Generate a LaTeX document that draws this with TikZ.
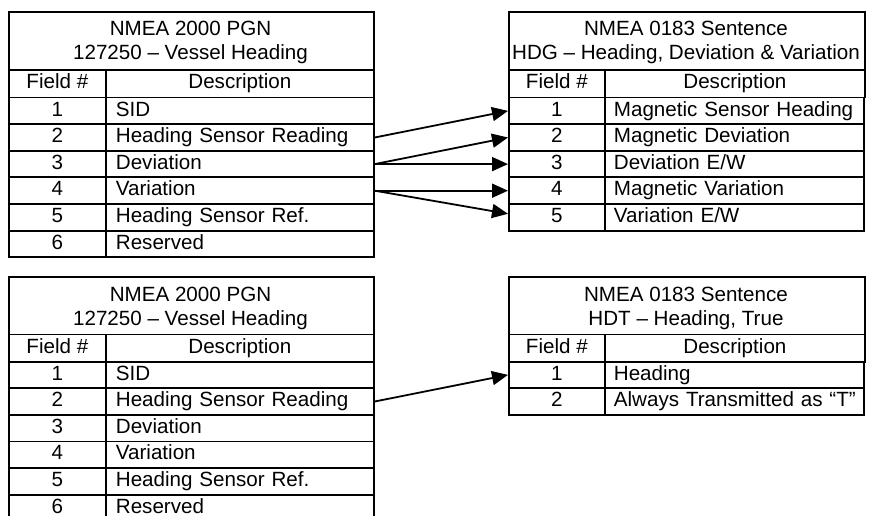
\documentclass[tikz,border=0pt]{standalone}
\usepackage{fontspec}
\setmainfont{Liberation Sans}
\usetikzlibrary{arrows.meta}
\newcommand\tabfont{\fontsize{20.6}{24}\selectfont}
\tikzset{
  cell/.style={draw, line width=1.8pt, inner xsep=0pt, inner ysep=0pt,
    minimum height=26.6pt, text height=15pt, text depth=4.5pt,
    anchor=north west, font=\tabfont},
  lnum/.style={cell, minimum width=97pt},
  ldesc/.style={cell, text width=248pt, inner xsep=10pt, align=left},
  rnum/.style={cell, minimum width=96pt},
  rdesc/.style={cell, text width=241pt, inner xsep=9pt, align=left},
  htxt/.style={anchor=base, inner sep=0pt, font=\tabfont},
  link/.style={line width=1.8pt, -{Triangle[length=16pt,width=14pt]}}
}
\begin{document}
\begin{tikzpicture}[x=1pt,y=-1pt]
\useasboundingbox (0,0) rectangle (873,516);
\clip (0,0) rectangle (873,516);
% ---------- top left table
\node[cell, minimum width=365pt, minimum height=58pt] (Ah) at (8,11) {};
\node[htxt] (Ah1) at (190.5,36) {NMEA 2000 PGN};
\node[htxt] (Ah2) at (190.5,60) {127250 – Vessel Heading};
\node[cell, minimum width=97pt, minimum height=27.7pt] (Af) at (8,69) {Field \#};
\node[cell, minimum width=268pt, minimum height=27.7pt] (Ad) at (105,69) {Description};
\foreach \n/\d [count=\i] in {1/SID, 2/Heading Sensor Reading, 3/Deviation,
    4/Variation, 5/Heading Sensor Ref., 6/Reserved} {
  \pgfmathsetmacro\yy{96.7+(\i-1)*26.6}
  \node[lnum] (A\i-n) at (8,\yy) {\n};
  \node[ldesc] (A\i-d) at (105,\yy) {\mbox{\d}};
}
% ---------- top right table
\node[cell, minimum width=356pt, minimum height=58pt] (Bh) at (508,11) {};
\node[htxt] (Bh1) at (686,36) {NMEA 0183 Sentence};
\node[htxt] (Bh2) at (686,60) {HDG – Heading, Deviation \& Variation};
\node[cell, minimum width=96pt, minimum height=27.7pt] (Bf) at (508,69) {Field \#};
\node[cell, minimum width=260pt, minimum height=27.7pt] (Bd) at (604,69) {Description};
\foreach \n/\d [count=\i] in {1/Magnetic Sensor Heading, 2/Magnetic Deviation,
    3/{Deviation E/W}, 4/Magnetic Variation, 5/{Variation E/W}} {
  \pgfmathsetmacro\yy{96.7+(\i-1)*26.6}
  \node[rnum] (B\i-n) at (508,\yy) {\n};
  \node[rdesc] (B\i-d) at (604,\yy) {\mbox{\d}};
}
% ---------- bottom left table
\node[cell, minimum width=365pt, minimum height=57.5pt] (Ch) at (8,276) {};
\node[htxt] (Ch1) at (190.5,301.5) {NMEA 2000 PGN};
\node[htxt] (Ch2) at (190.5,325) {127250 – Vessel Heading};
\node[cell, minimum width=97pt, minimum height=27.2pt] (Cf) at (8,333.5) {Field \#};
\node[cell, minimum width=268pt, minimum height=27.2pt] (Cd) at (105,333.5) {Description};
\foreach \n/\d [count=\i] in {1/SID, 2/Heading Sensor Reading, 3/Deviation,
    4/Variation, 5/Heading Sensor Ref., 6/Reserved} {
  \pgfmathsetmacro\yy{360.7+(\i-1)*26.6}
  \node[lnum] (C\i-n) at (8,\yy) {\n};
  \node[ldesc] (C\i-d) at (105,\yy) {\mbox{\d}};
}
% ---------- bottom right table
\node[cell, minimum width=356pt, minimum height=57.5pt] (Dh) at (508,276) {};
\node[htxt] (Dh1) at (686,301.5) {NMEA 0183 Sentence};
\node[htxt] (Dh2) at (686,325) {HDT – Heading, True};
\node[cell, minimum width=96pt, minimum height=27.2pt] (Df) at (508,333.5) {Field \#};
\node[cell, minimum width=260pt, minimum height=27.2pt] (Dd) at (604,333.5) {Description};
\foreach \n/\d [count=\i] in {1/Heading, 2/Always Transmitted as “T”} {
  \pgfmathsetmacro\yy{360.7+(\i-1)*26.6}
  \node[rnum] (D\i-n) at (508,\yy) {\n};
  \node[rdesc] (D\i-d) at (604,\yy) {\mbox{\d}};
}
% ---------- connectors
\draw[link] (A2-d.east) -- (B1-n.west);
\draw[link] (A3-d.east) -- (B2-n.west);
\draw[link] (A3-d.east) -- (B3-n.west);
\draw[link] (A4-d.east) -- (B4-n.west);
\draw[link] (A4-d.east) -- ([yshift=3.5pt]B5-n.west);
\draw[link] (C2-d.east) -- (D1-n.west);
\end{tikzpicture}
\end{document}
